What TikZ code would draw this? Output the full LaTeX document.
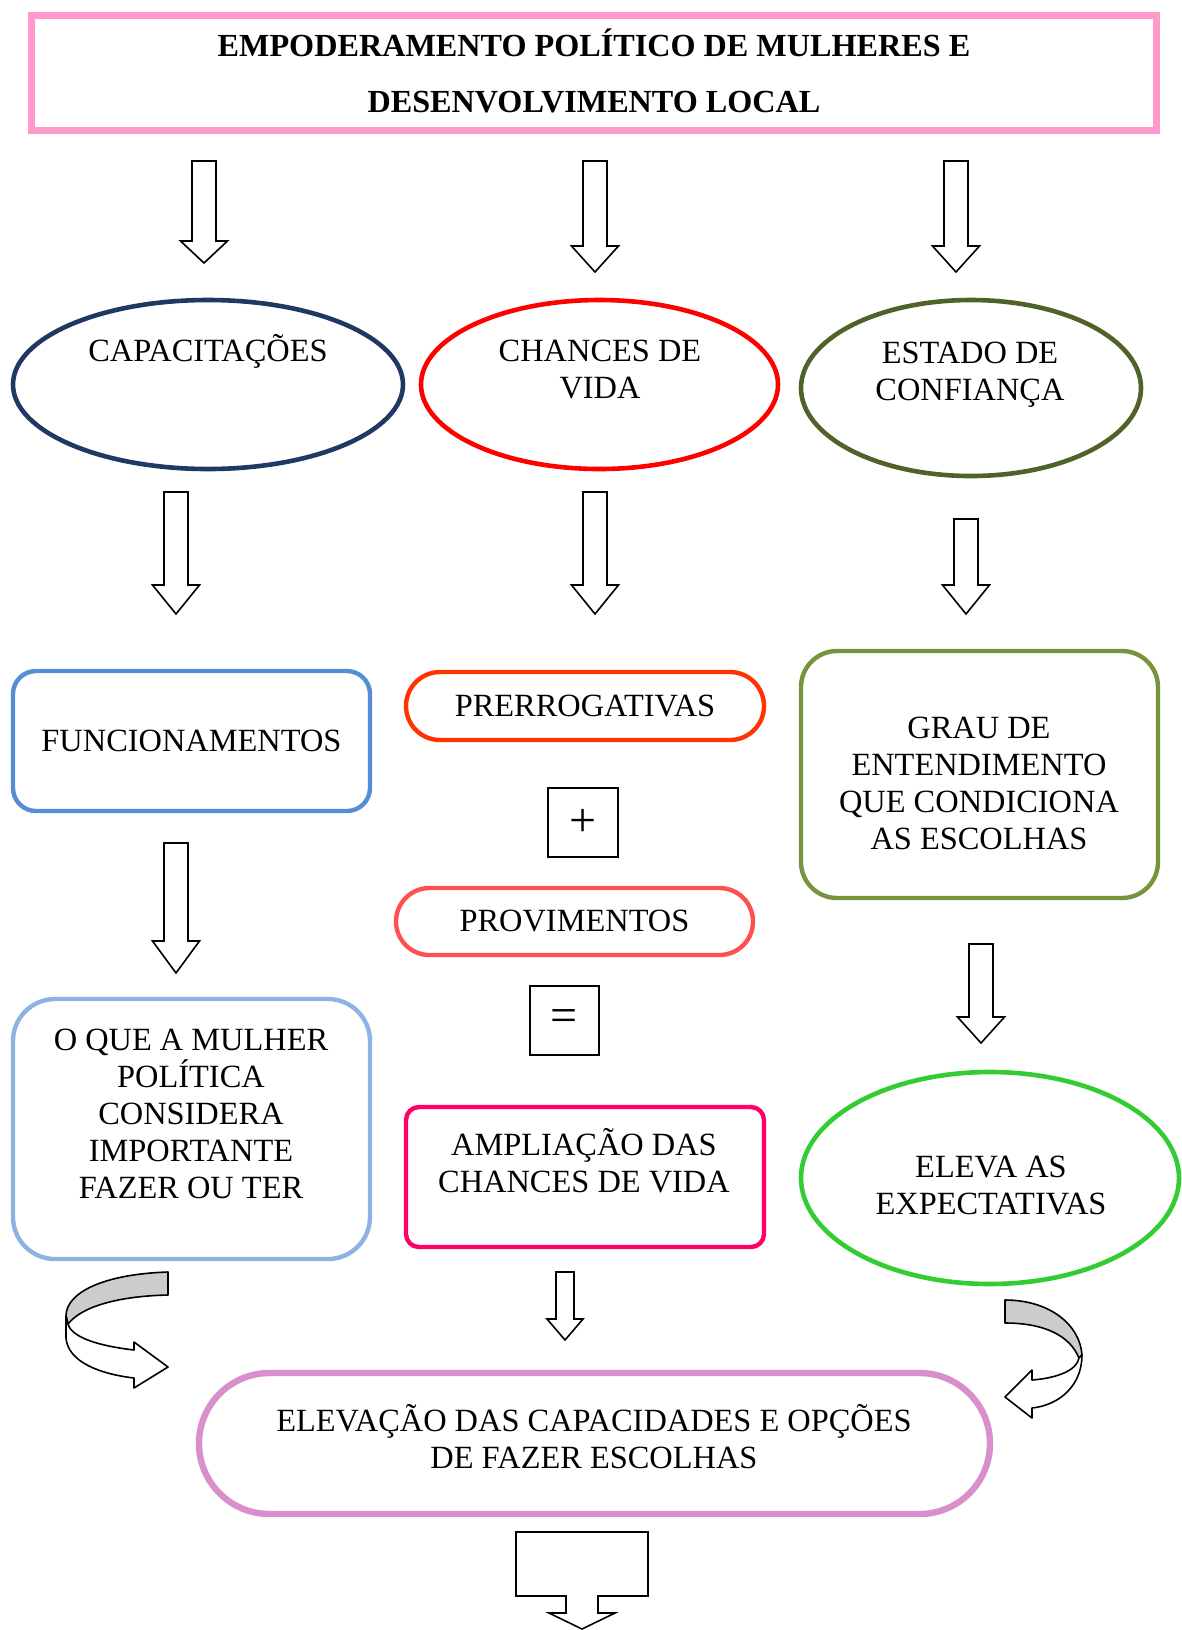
\documentclass[tikz,border=0pt]{standalone}
\usepackage{fontspec}
\setmainfont{Liberation Serif}
\usetikzlibrary{shapes.geometric}

\definecolor{titlepink}{HTML}{FF99CC}
\definecolor{capnavy}{HTML}{1F3864}
\definecolor{chancered}{HTML}{FF0000}
\definecolor{estadoolive}{HTML}{4F6228}
\definecolor{funcblue}{HTML}{558ED5}
\definecolor{prerorange}{HTML}{FF3300}
\definecolor{provred}{HTML}{FF5050}
\definecolor{amplpink}{HTML}{FF0066}
\definecolor{grauolive}{HTML}{77933C}
\definecolor{oqueblue}{HTML}{8DB3E2}
\definecolor{elevagreen}{HTML}{33CC33}
\definecolor{elevorchid}{HTML}{D98FCB}

\tikzset{
  txt/.style={align=center, inner sep=0pt, font=\fontsize{16.2}{18.5}\selectfont},
  ellbox/.style={ellipse, draw, line width=2.3pt, inner sep=0pt},
  roundbox/.style={rectangle, draw, line width=2.2pt, inner sep=0pt},
  signbox/.style={rectangle, draw, line width=0.8pt, inner sep=0pt,
    minimum width=35pt, minimum height=34.5pt, font=\fontsize{24}{24}\selectfont},
  blockarrow/.style={draw, line width=0.8pt, fill=white, line join=miter},
  bentarrow/.style={draw, line width=0.8pt, line join=round}
}

% seta em bloco para baixo: x, topo, base da ponta, ponta, meia haste, meia ponta
\newcommand{\blockdown}[6]{%
  \draw[blockarrow] (#1-#5,#2) -- (#1+#5,#2) -- (#1+#5,#3) -- (#1+#6,#3)
    -- (#1,#4) -- (#1-#6,#3) -- (#1-#5,#3) -- cycle;}

\begin{document}
\begin{tikzpicture}[x=0.5pt, y=-0.5pt]
\useasboundingbox (0,0) rectangle (1182,1630);

% titulo
\node[rectangle, draw=titlepink, line width=3.5pt, minimum width=562.5pt,
  minimum height=57.5pt] (titulo) at (594,73) {};
\node[txt, font=\bfseries\fontsize{16.1}{28}\selectfont] (tituloT) at (594,71)
  {EMPODERAMENTO POLÍTICO DE MULHERES E\\DESENVOLVIMENTO LOCAL};

\blockdown{204}{161}{241}{263}{12}{23.5}
\blockdown{595}{161}{246}{272}{12}{23.5}
\blockdown{956}{161}{246}{272}{12}{23.5}

% elipses
\node[ellbox, draw=capnavy, minimum width=195pt, minimum height=84.5pt] (cap) at (208,384.5) {};
\node[txt] (capT) at (208,351) {CAPACITAÇÕES};
\node[ellbox, draw=chancered, minimum width=178.5pt, minimum height=84.5pt] (chances) at (599.5,384.5) {};
\node[txt] (chancesT) at (600,369.5) {CHANCES DE\\VIDA};
\node[ellbox, draw=estadoolive, minimum width=170pt, minimum height=88pt] (estado) at (971,388) {};
\node[txt] (estadoT) at (970,374.5) {ESTADO DE\\CONFIANÇA};

\blockdown{176}{492}{585}{614}{12}{23.5}
\blockdown{595}{492}{585}{614}{12}{23.5}
\blockdown{966}{519}{585}{614}{12}{23.5}

% coluna da esquerda
\node[roundbox, draw=funcblue, rounded corners=11.5pt, minimum width=178.5pt,
  minimum height=70pt, txt] (func) at (191.5,741) {FUNCIONAMENTOS};
\blockdown{176}{843}{941}{973}{12}{23.5}
\node[roundbox, draw=oqueblue, rounded corners=21pt, minimum width=178.5pt,
  minimum height=130pt] (oque) at (191.5,1129) {};
\node[txt] (oqueT) at (191,1114) {O QUE A MULHER\\POLÍTICA\\CONSIDERA\\IMPORTANTE\\FAZER OU TER};

% coluna do meio
\node[roundbox, draw=prerorange, rounded corners=17pt, minimum width=179pt,
  minimum height=34pt, txt] (prer) at (585,706) {PRERROGATIVAS};
\node[signbox] (mais) at (583,822.5) {+};
\node[roundbox, draw=provred, rounded corners=16.75pt, minimum width=178.5pt,
  minimum height=33.5pt, txt] (prov) at (574.5,921.5) {PROVIMENTOS};
\node[signbox, minimum width=34.5pt] (igual) at (564.5,1020.5) {=};
\node[roundbox, draw=amplpink, rounded corners=6.5pt, minimum width=179pt,
  minimum height=70pt] (ampl) at (585,1177) {};
\node[txt] (amplT) at (584,1161) {AMPLIAÇÃO DAS\\CHANCES DE VIDA};
\blockdown{565}{1272}{1319}{1340}{9}{18}

% coluna da direita
\node[roundbox, draw=grauolive, rounded corners=18pt, minimum width=178.5pt,
  minimum height=123.5pt] (grau) at (979.5,774.5) {};
\node[txt] (grauT) at (979,783.5) {GRAU DE\\ENTENDIMENTO\\QUE CONDICIONA\\AS ESCOLHAS};
\blockdown{981}{944}{1017}{1043}{12}{23.5}
\node[ellbox, draw=elevagreen, minimum width=189pt, minimum height=106pt] (eleva) at (990,1178) {};
\node[txt] (elevaT) at (991,1185) {ELEVA AS\\EXPECTATIVAS};

% setas curvas
\draw[bentarrow, fill=gray!40] (168,1272) .. controls (105,1274) and (66,1292) .. (66,1316)
  -- (68,1324) .. controls (82,1306) and (120,1296) .. (168,1295) -- cycle;
\draw[bentarrow, fill=white] (66,1316) -- (66,1338) .. controls (68,1362) and (100,1374) .. (134,1378)
  -- (134,1388) -- (168,1367) -- (134,1342) -- (134,1350)
  .. controls (100,1346) and (72,1338) .. (68,1324) -- cycle;
\draw[bentarrow, fill=gray!40] (1005,1300) .. controls (1050,1300) and (1080,1325) .. (1082,1355)
  -- (1079,1358) .. controls (1070,1336) and (1045,1323) .. (1005,1323) -- cycle;
\draw[bentarrow, fill=white] (1082,1355) .. controls (1082,1385) and (1060,1405) .. (1032,1408)
  -- (1032,1418) -- (1005,1397) -- (1032,1370) -- (1032,1380)
  .. controls (1058,1378) and (1077,1370) .. (1079,1358) -- cycle;

% resultado
\node[roundbox, draw=elevorchid, line width=3.2pt, rounded corners=35.25pt, minimum width=395.5pt,
  minimum height=70.5pt] (elevacao) at (594.5,1443.5) {};
\node[txt] (elevacaoT) at (594,1437) {ELEVAÇÃO DAS CAPACIDADES E OPÇÕES\\DE FAZER ESCOLHAS};
\draw[blockarrow] (516,1532) -- (648,1532) -- (648,1596) -- (598,1596) -- (598,1613)
  -- (615,1613) -- (582,1629) -- (549,1613) -- (566,1613) -- (566,1596) -- (516,1596) -- cycle;
\end{tikzpicture}
\end{document}
